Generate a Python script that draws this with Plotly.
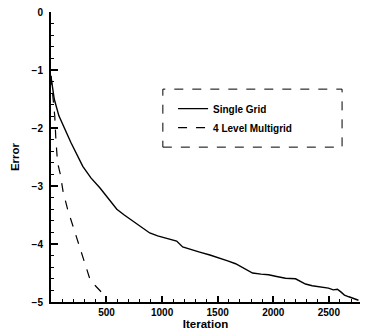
import plotly.graph_objects as go

# Data
single_iter = [0, 30, 72, 180, 287, 360, 440, 520, 593, 660, 736, 810, 889, 960, 1042, 1100, 1131, 1185, 1260, 1338, 1430, 1518, 1590, 1661, 1740, 1814, 1890, 1958, 2030, 2110, 2200, 2290, 2350, 2407, 2460, 2496, 2540, 2577, 2610, 2640, 2680, 2712, 2740, 2766]
single_err = [-1.1, -1.5, -1.79, -2.25, -2.66, -2.86, -3.03, -3.22, -3.40, -3.50, -3.60, -3.70, -3.81, -3.86, -3.90, -3.93, -3.95, -4.05, -4.10, -4.14, -4.19, -4.24, -4.29, -4.34, -4.42, -4.50, -4.52, -4.53, -4.56, -4.59, -4.60, -4.69, -4.72, -4.74, -4.75, -4.76, -4.79, -4.78, -4.83, -4.88, -4.91, -4.93, -4.95, -4.97]

multi_iter = [0, 20, 35, 45, 60, 85, 110, 150, 200, 240, 280, 320, 350, 400, 440, 470, 490, 500]
multi_err = [-1.1, -1.45, -1.8, -2.2, -2.6, -2.8, -3.1, -3.4, -3.7, -3.95, -4.16, -4.4, -4.6, -4.72, -4.79, -4.86, -4.93, -5.0]

x_tick_step = 500
y_tick_step = 1

series_names = ["Single Grid", "4 Level Multigrid"]

FONT = "Liberation Sans, Arial, Helvetica, sans-serif"

fig = go.Figure()
fig.add_trace(go.Scatter(x=single_iter, y=single_err, mode="lines", name=series_names[0],
                         line=dict(color="black", width=1.4)))
fig.add_trace(go.Scatter(x=multi_iter, y=multi_err, mode="lines", name=series_names[1],
                         line=dict(color="black", width=1.2, dash="dash")))

# page body has an 8px default margin, so the figure is 8px smaller on each axis
fig.update_layout(
    width=364, height=324,
    margin=dict(l=43, r=12, t=4, b=30),
    paper_bgcolor="white", plot_bgcolor="white",
    font=dict(family=FONT, color="black", size=10, weight="bold"),
    showlegend=True,
    legend=dict(x=0.395, y=0.634, xanchor="left", yanchor="middle",
                bgcolor="rgba(0,0,0,0)", borderwidth=0,
                font=dict(size=10, family=FONT, weight="bold"),
                tracegroupgap=0),
)

fig.update_xaxes(
    range=[1, 2780], tickmode="linear", tick0=0, dtick=x_tick_step,
    showgrid=False, zeroline=False, automargin=False,
    showline=True, linecolor="black", linewidth=2,
    ticks="inside", ticklen=6, tickwidth=1.5, tickcolor="black",
    minor=dict(dtick=100, ticks="inside", ticklen=3, tickcolor="black", tickwidth=1, showgrid=False),
    tickfont=dict(size=10, family=FONT, weight="bold"),
    title=dict(text="Iteration", font=dict(size=11.5, family=FONT, weight="bold"), standoff=2),
)
fig.update_yaxes(
    range=[-5, 0], tickmode="linear", tick0=0, dtick=y_tick_step,
    showgrid=False, zeroline=False, automargin=False,
    showline=True, linecolor="black", linewidth=2,
    ticks="inside", ticklen=7, tickwidth=1.5, tickcolor="black",
    minor=dict(dtick=0.2, ticks="inside", ticklen=3, tickcolor="black", tickwidth=1, showgrid=False),
    tickfont=dict(size=10, family=FONT, weight="bold"),
    ticklabelstandoff=4, ticklabeloverflow="allow",
    title=dict(text="Error", font=dict(size=11.5, family=FONT, weight="bold"), standoff=10),
)

# dashed legend frame
fig.add_shape(type="rect", xref="paper", yref="paper",
              x0=0.362, x1=0.942, y0=0.534, y1=0.734,
              line=dict(color="black", width=1, dash="dash"))

fig.write_html("out.html")
